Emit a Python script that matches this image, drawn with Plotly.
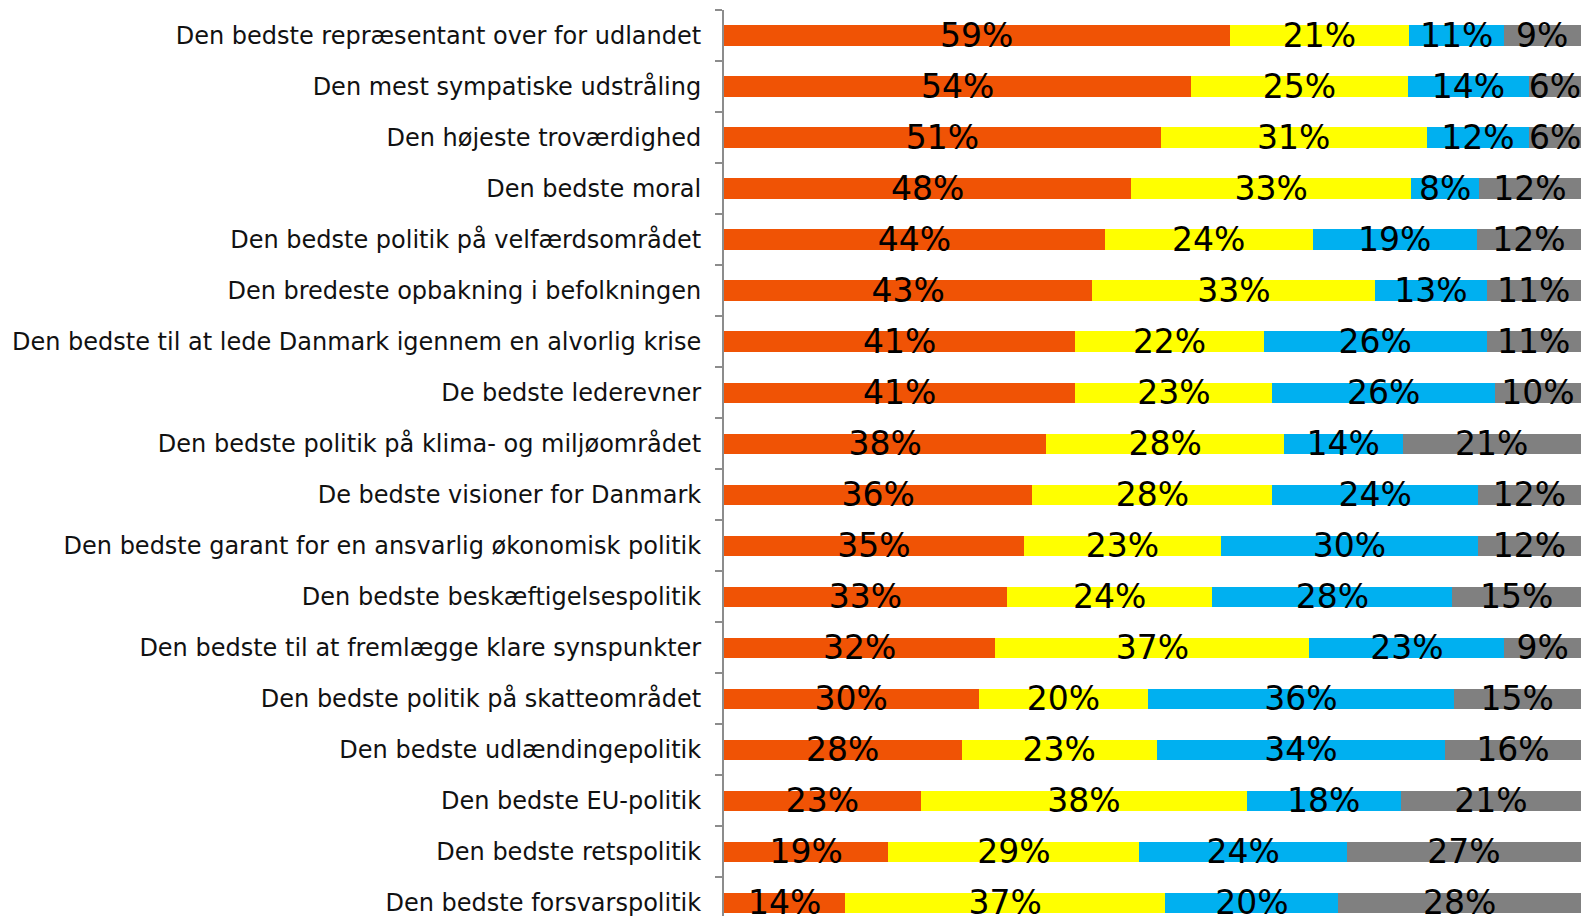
import plotly.graph_objects as go

categories = [
    "Den bedste repræsentant over for udlandet",
    "Den mest sympatiske udstråling",
    "Den højeste troværdighed",
    "Den bedste moral",
    "Den bedste politik på velfærdsområdet",
    "Den bredeste opbakning i befolkningen",
    "Den bedste til at lede Danmark igennem en alvorlig krise",
    "De bedste lederevner",
    "Den bedste politik på klima- og miljøområdet",
    "De bedste visioner for Danmark",
    "Den bedste garant for en ansvarlig økonomisk politik",
    "Den bedste beskæftigelsespolitik",
    "Den bedste til at fremlægge klare synspunkter",
    "Den bedste politik på skatteområdet",
    "Den bedste udlændingepolitik",
    "Den bedste EU-politik",
    "Den bedste retspolitik",
    "Den bedste forsvarspolitik",
]

serie1 = [59, 54, 51, 48, 44, 43, 41, 41, 38, 36, 35, 33, 32, 30, 28, 23, 19, 14]
serie2 = [21, 25, 31, 33, 24, 33, 22, 23, 28, 28, 23, 24, 37, 20, 23, 38, 29, 37]
serie3 = [11, 14, 12, 8, 19, 13, 26, 26, 14, 24, 30, 28, 23, 36, 34, 18, 24, 20]
serie4 = [9, 6, 6, 12, 12, 11, 11, 10, 21, 12, 12, 15, 9, 15, 16, 21, 27, 28]

series = [
    ("Serie 1", serie1, "#F05305"),
    ("Serie 2", serie2, "#FFFF00"),
    ("Serie 3", serie3, "#00B0F0"),
    ("Serie 4", serie4, "#808080"),
]

fig = go.Figure()
for name, vals, color in series:
    fig.add_trace(go.Bar(
        name=name,
        y=categories,
        x=vals,
        orientation="h",
        marker=dict(color=color, line=dict(width=0)),
        width=0.4,
        text=[f"{v}%" for v in vals],
        textposition="inside",
        insidetextanchor="middle",
        constraintext="none",
        textangle=0,
        textfont=dict(family="DejaVu Sans", size=33, color="black"),
        cliponaxis=False,
        showlegend=False,
    ))

fig.update_layout(
    barmode="stack",
    barnorm="percent",
    width=1583,
    height=916,
    margin=dict(l=724, r=2, t=10, b=0),
    plot_bgcolor="white",
    paper_bgcolor="white",
    font=dict(family="DejaVu Sans", color="black"),
)
fig.update_xaxes(visible=False, range=[0, 100.02], showgrid=False, zeroline=False)
fig.update_yaxes(
    type="category",
    categoryorder="array",
    categoryarray=categories,
    range=[17.255, -0.5],
    tickson="boundaries",
    ticks="outside",
    ticklen=7,
    tickwidth=2,
    tickcolor="#8C8C8C",
    showline=True,
    linecolor="#8C8C8C",
    linewidth=2,
    showgrid=False,
    zeroline=False,
    automargin=False,
    tickfont=dict(family="DejaVu Sans", size=24, color="#111111"),
    ticklabelstandoff=16,
)

fig.write_html(
    "out.html",
    config={"displayModeBar": False},
    post_script="document.body.style.margin='0';document.body.style.overflow='hidden';",
)
